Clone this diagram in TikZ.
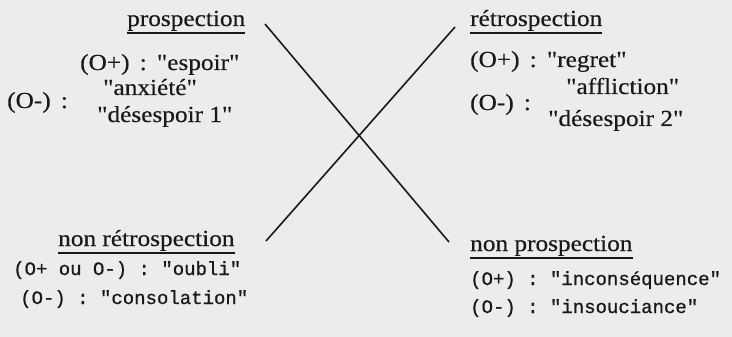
\documentclass[tikz,border=0pt]{standalone}
\usepackage{fontspec}
\setmainfont{Liberation Serif}[FakeStretch=1.1,Ligatures=TeXOff,FakeBold=0.4]
\setmonofont{Liberation Mono}[FakeBold=0.8]
\definecolor{paper}{RGB}{236,236,234}
\definecolor{ink}{RGB}{25,25,25}
\begin{document}
\begin{tikzpicture}[x=1pt,y=-1pt,
  txt/.style={anchor=base west,inner sep=0pt,font=\fontsize{23}{27}\selectfont,text=ink},
  tw/.style={anchor=base west,inner sep=0pt,font=\fontsize{19}{23}\ttfamily,text=ink},
  ul/.style={draw=ink,line width=1.2pt},
  cross/.style={draw=ink,line width=1.6pt}]
\fill[paper] (0,0) rectangle (732,337);
\useasboundingbox (0,0) rectangle (732,337);
% top left
\node[txt] (hP) at (127,26) {prospection};
\node[txt] (pa) at (80,70) {(O+)\ \,:\ \,"espoir"};
\node[txt] (pb) at (103,95) {"anxiété"};
\node[txt] (pc) at (7,108) {(O-)\ \,:};
\node[txt] (pd) at (97,122) {"désespoir 1"};
% top right
\node[txt] (hR) at (470,26) {rétrospection};
\node[txt] (ra) at (470,67) {(O+)\ \,:\ \,"regret"};
\node[txt] (rb) at (566,94) {"affliction"};
\node[txt] (rc) at (470,110) {(O-)\ \,:};
\node[txt] (rd) at (548,126) {"désespoir 2"};
% bottom left
\node[txt] (hNR) at (58,246) {non rétrospection};
\node[tw] (na) at (13,275) {(O+ ou O-) : "oubli"};
\node[tw] (nb) at (20,304) {(O-) : "consolation"};
% bottom right
\node[txt] (hNP) at (470,251) {non prospection};
\node[tw] (qa) at (470,285) {(O+) : "inconséquence"};
\node[tw] (qb) at (470,313) {(O-) : "insouciance"};
% underlines
\foreach \h in {hP,hR,hNR,hNP}
  \draw[ul] ([yshift=-7pt]\h.base west) -- ([yshift=-7pt]\h.base east);
% the cross
\coordinate (a1) at (265,24);
\coordinate (a2) at (449,242);
\coordinate (b1) at (455,27);
\coordinate (b2) at (266,241);
\draw[cross] (a1) -- (a2);
\draw[cross] (b1) -- (b2);
\end{tikzpicture}
\end{document}
